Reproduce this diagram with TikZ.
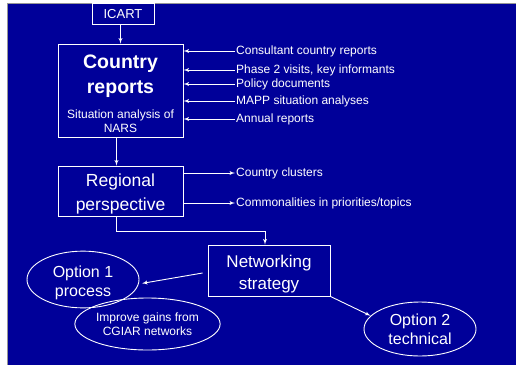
\documentclass[tikz,border=0pt]{standalone}
\usepackage{fontspec}
\setmainfont{Liberation Sans}
\usetikzlibrary{shapes.geometric}
\usetikzlibrary{arrows}
\definecolor{slideblue}{RGB}{0,0,153}
\definecolor{framegray}{RGB}{150,150,150}
\newcommand{\lift}[1]{\rule{0pt}{#1}}
\tikzset{
box/.style = {rectangle, draw=white, line width=0.9pt, text=white, align=center, inner sep=0pt},
option/.style = {ellipse, draw=white, line width=0.9pt, text=white, align=center, inner sep=0pt},
source/.style = {text=white, anchor=west, inner sep=1pt, font=\fontsize{12}{14}\selectfont},
line/.style = {draw=white, line width=0.9pt, -latex'},
coord/.style={coordinate}
}

\begin{document}
\begin{tikzpicture}[x=1pt, y=-1pt]
    \useasboundingbox (0,0) rectangle (516,364);
    \fill [white] (0,0) rectangle (516,364);
    \draw [framegray, fill=slideblue] (7.5,3.5) rectangle (520,370);

    \node [box, minimum width=62pt, minimum height=21pt, font=\fontsize{13}{15}\selectfont] (icart) at (123,14) {ICART};
    \node [box, minimum width=125pt, minimum height=93pt, font=\fontsize{19.5}{25}\selectfont\bfseries] (country) at (120.5,90.5)
        {\lift{20.2pt}Country\\reports\\[-0.5pt]\fontsize{12}{14}\selectfont\mdseries Situation analysis of\\[-11pt]\fontsize{12}{14}\selectfont\mdseries NARS};
    \node [box, minimum width=125pt, minimum height=50pt, font=\fontsize{17.5}{24}\selectfont] (regional) at (120.5,191) {\lift{18.5pt}Regional\\perspective};
    \node [box, minimum width=122pt, minimum height=51pt, font=\fontsize{17}{22}\selectfont] (networking) at (269,270.5) {\lift{19.2pt}Networking\\strategy};
    \node [option, minimum width=112pt, minimum height=55pt, font=\fontsize{16}{19}\selectfont] (option1) at (83,279.5) {\lift{17.8pt}Option 1\\process};
    \node [option, minimum width=145pt, minimum height=52pt, font=\fontsize{12}{14}\selectfont] (improve) at (147.5,324) {Improve gains from\\CGIAR networks};
    \node [option, minimum width=112pt, minimum height=54pt, font=\fontsize{16}{19}\selectfont] (option2) at (420,329) {Option 2\\technical};

    % inputs to the country reports
    \node [source] (consultant) at (235,51) {Consultant country reports};
    \node [source] (phase) at (235,70) {Phase 2 visits, key informants};
    \node [source] (policy) at (235,84) {Policy documents};
    \node [source] (mapp) at (235,101) {MAPP situation analyses};
    \node [source] (annual) at (235,119) {Annual reports};
    % outputs of the regional perspective
    \node [source] (clusters) at (235,173) {Country clusters};
    \node [source] (commonalities) at (235,203) {Commonalities in priorities/topics};
    \node [coord] (bend) at (265,231) {};

    \path [line] (country.north |- icart.south) -- (country.north);
    \path [line] ([xshift=-4pt]country.south) -- ([xshift=-4pt]regional.north);
    \path [line] ([xshift=-4pt]regional.south) |- (bend) -- (bend |- networking.north);
    \path [line] ([shift={(-5pt,-2.5pt)}]networking.west) -- ([xshift=3pt]option1.-4);
    \path [line] (networking.south east) -- (option2.165);

    \path [line] (consultant.west) -- (consultant.west -| country.east);
    \path [line] (phase.west) -- (phase.west -| country.east);
    \path [line] (policy.west) -- (policy.west -| country.east);
    \path [line] (mapp.west) -- (mapp.west -| country.east);
    \path [line] (annual.west) -- (annual.west -| country.east);
    \path [line] (clusters.west -| regional.east) -- (clusters.west);
    \path [line] (commonalities.west -| regional.east) -- (commonalities.west);
\end{tikzpicture}
\end{document}
